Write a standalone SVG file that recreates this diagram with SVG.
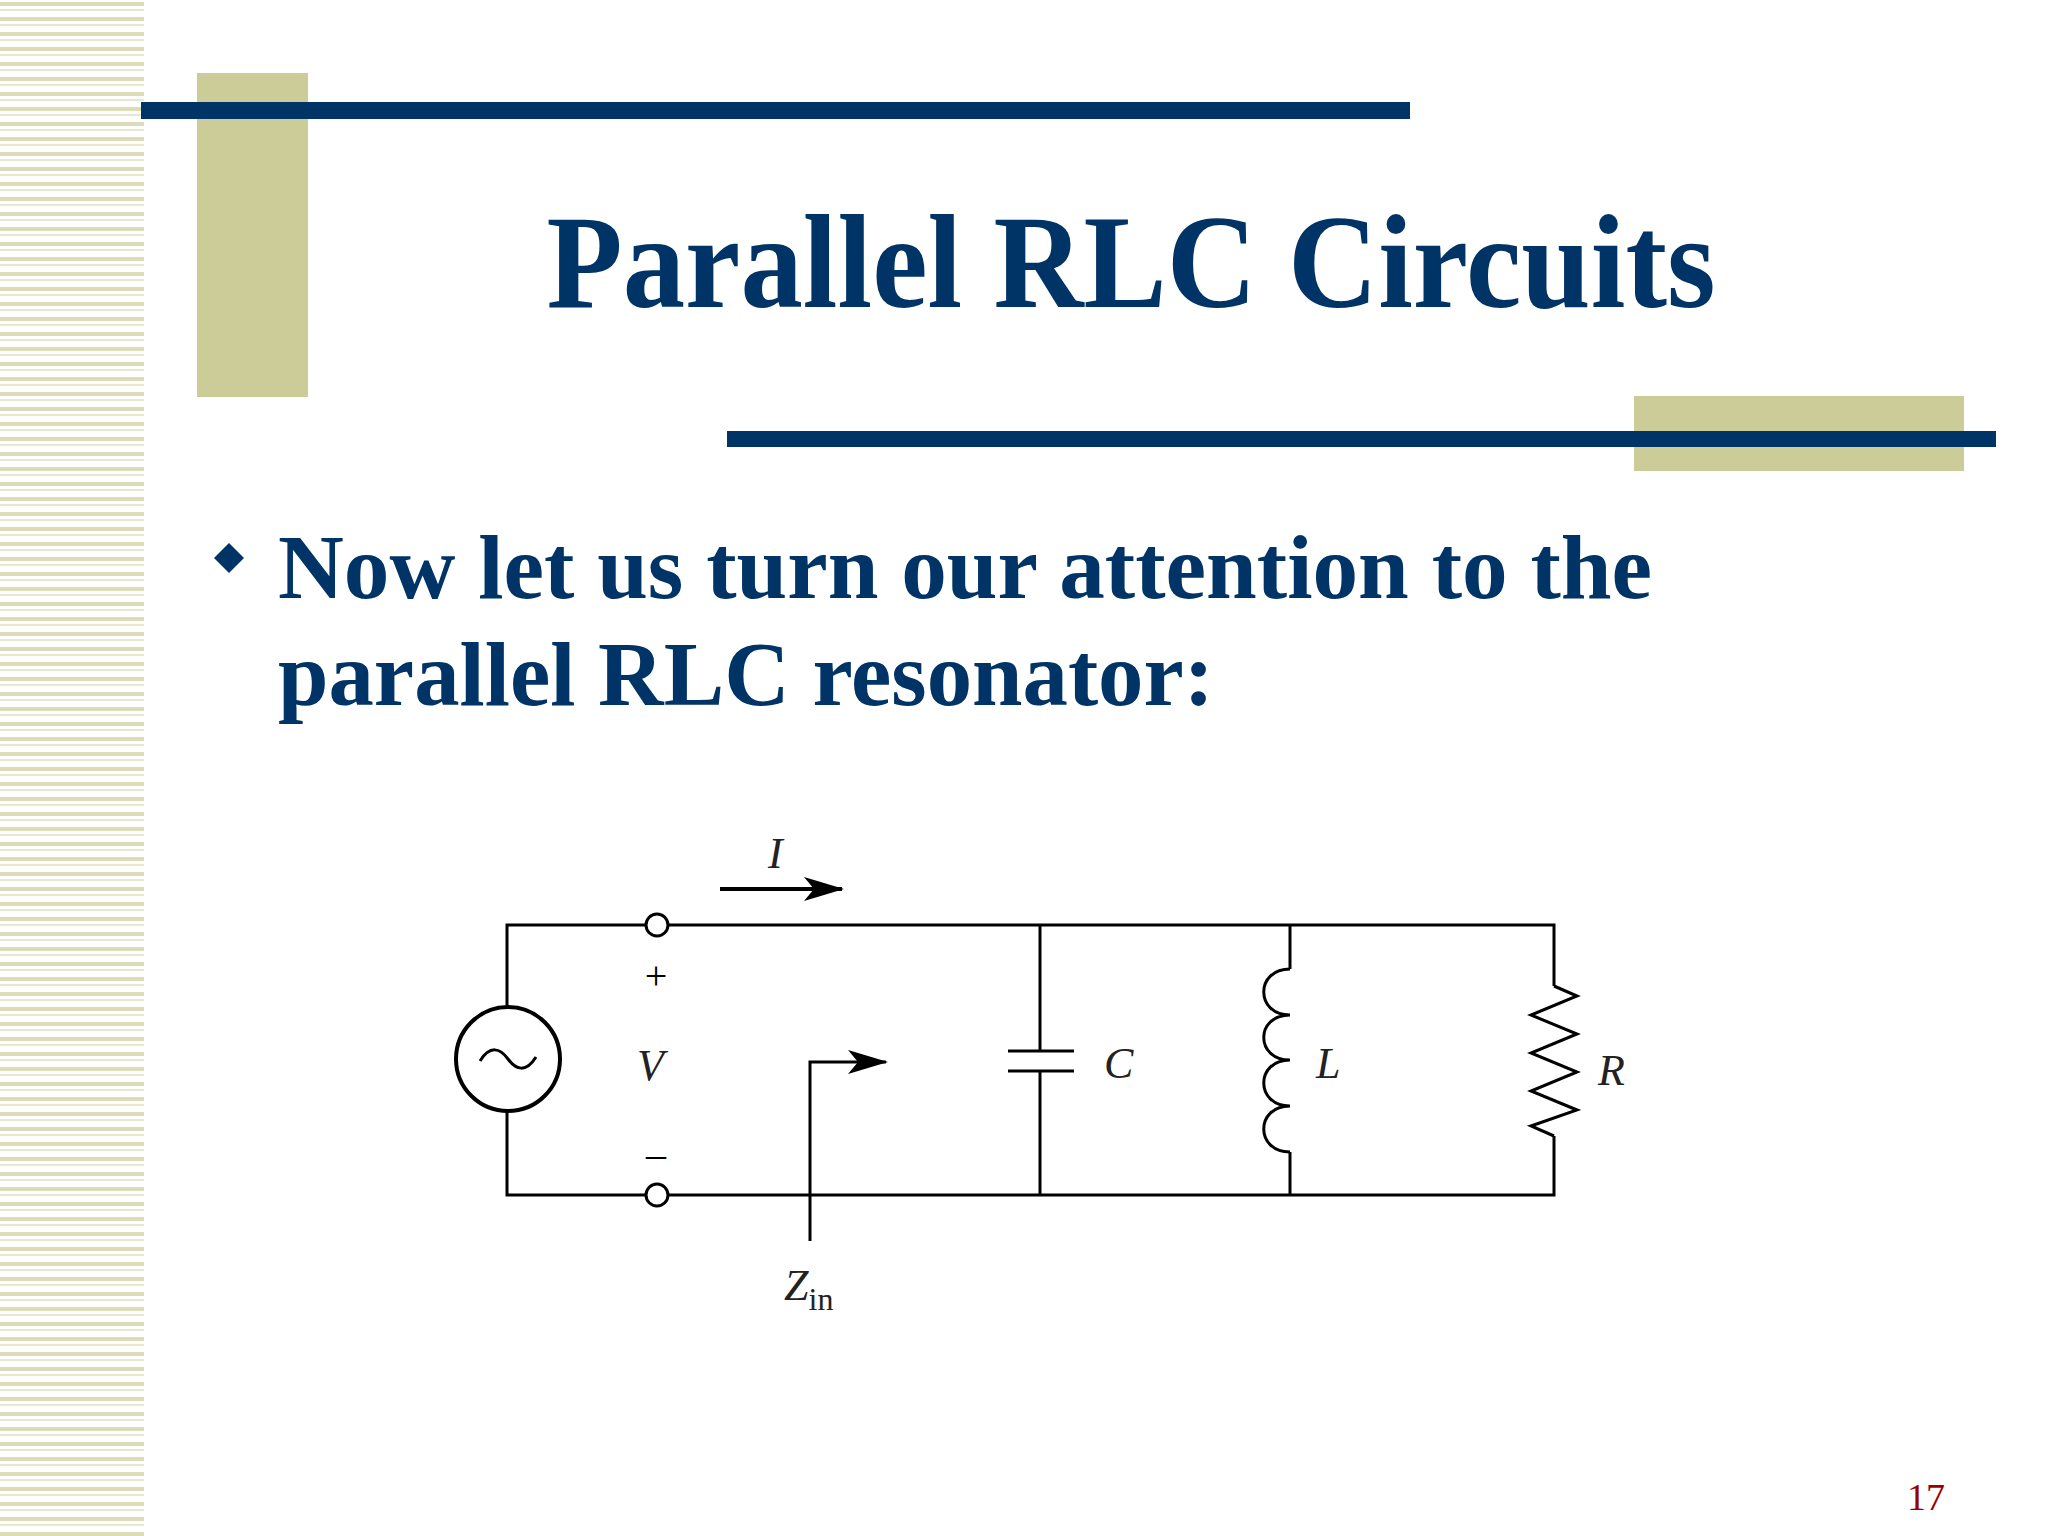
<svg xmlns="http://www.w3.org/2000/svg" width="2048" height="1536" viewBox="0 0 2048 1536">
<defs>
<pattern id="st" width="144" height="15" patternUnits="userSpaceOnUse">
<rect width="144" height="15" fill="#fff"/>
<rect y="2" width="144" height="4" fill="#dcdcb8"/>
<rect y="9" width="144" height="2" fill="#e8e8d0"/>
</pattern>
<marker id="ah" markerWidth="40" markerHeight="24" refX="38" refY="12" orient="auto" markerUnits="userSpaceOnUse">
<path d="M0,0 L40,12 L0,24 L10,12 Z" fill="#000"/>
</marker>
<style>
.t{font-family:"Liberation Serif",serif;font-weight:bold;fill:#003366}
.w{stroke:#000;stroke-width:3;fill:none}
.l{font-family:"Liberation Serif",serif;font-style:italic;font-size:44px;fill:#222}
</style>
</defs>
<rect width="2048" height="1536" fill="#fff"/>
<rect x="0" y="0" width="144" height="1536" fill="url(#st)"/>
<g id="decor">
<rect x="197" y="73" width="111" height="324" fill="#cccc99"/>
<rect x="141" y="102" width="1269" height="17" fill="#003366"/>
<rect x="1634" y="396" width="330" height="75" fill="#cccc99"/>
<rect x="727" y="431" width="1269" height="16" fill="#003366"/>
</g>
<text class="t" x="1131" y="307" font-size="134" text-anchor="middle" textLength="1169" lengthAdjust="spacingAndGlyphs">Parallel RLC Circuits</text>
<path d="M229,543 L244,558 L229,573 L214,558 Z" fill="#003366"/>
<text class="t" x="278" y="598" font-size="92" textLength="1374" lengthAdjust="spacingAndGlyphs">Now let us turn our attention to the</text>
<text class="t" x="278" y="705" font-size="92" textLength="936" lengthAdjust="spacingAndGlyphs">parallel RLC resonator:</text>
<g id="connectors">
<path class="w" d="M645,925 H507 V1007 M507,1111 V1195 H645 M669,925 H1554 V986 M1554,1136 V1195 H669 M1040,925 V1051 M1040,1071 V1195 M1290,925 V969 M1290,1152 V1195"/>
<path d="M720,889 H842" stroke="#000" stroke-width="4" marker-end="url(#ah)"/>
<path d="M810,1241 V1062 H886" stroke="#000" stroke-width="3" fill="none" marker-end="url(#ah)"/>
</g>
<g id="source"><circle cx="508" cy="1059" r="52" stroke="#000" stroke-width="4" fill="none"/><path class="w" d="M480,1061 C490,1045 500,1048 508,1059 S526,1073 536,1057"/></g>
<g id="t1"><circle cx="657" cy="925" r="11" fill="#fff" stroke="#000" stroke-width="3"/></g>
<g id="t2"><circle cx="657" cy="1195" r="11" fill="#fff" stroke="#000" stroke-width="3"/></g>
<g id="cap"><path class="w" d="M1008,1051 H1074 M1008,1071 H1074"/></g>
<g id="ind"><path class="w" d="M1290,969 C1255,969 1255,1015 1290,1015 C1255,1015 1255,1060 1290,1060 C1255,1060 1255,1106 1290,1106 C1255,1106 1255,1152 1290,1152"/></g>
<g id="res"><path class="w" d="M1554,986 L1577,996 L1531,1015 L1577,1034 L1531,1053 L1577,1072 L1531,1091 L1577,1110 L1531,1126 L1554,1136"/></g>
<text class="l" x="1104" y="1078">C</text>
<text class="l" x="1316" y="1078">L</text>
<text class="l" x="1598" y="1085">R</text>
<text class="l" x="637" y="1080">V</text>
<text x="656" y="989" font-family="Liberation Serif,serif" font-size="40" text-anchor="middle">+</text>
<text x="656" y="1167" font-family="Liberation Serif,serif" font-size="40" text-anchor="middle">–</text>
<text class="l" x="768" y="868">I</text>
<text class="l" x="784" y="1300">Z<tspan font-style="normal" font-size="32" dy="10">in</tspan></text>
<text x="1926" y="1510" font-family="Liberation Serif,serif" font-size="38" fill="#990000" text-anchor="middle">17</text>
</svg>
